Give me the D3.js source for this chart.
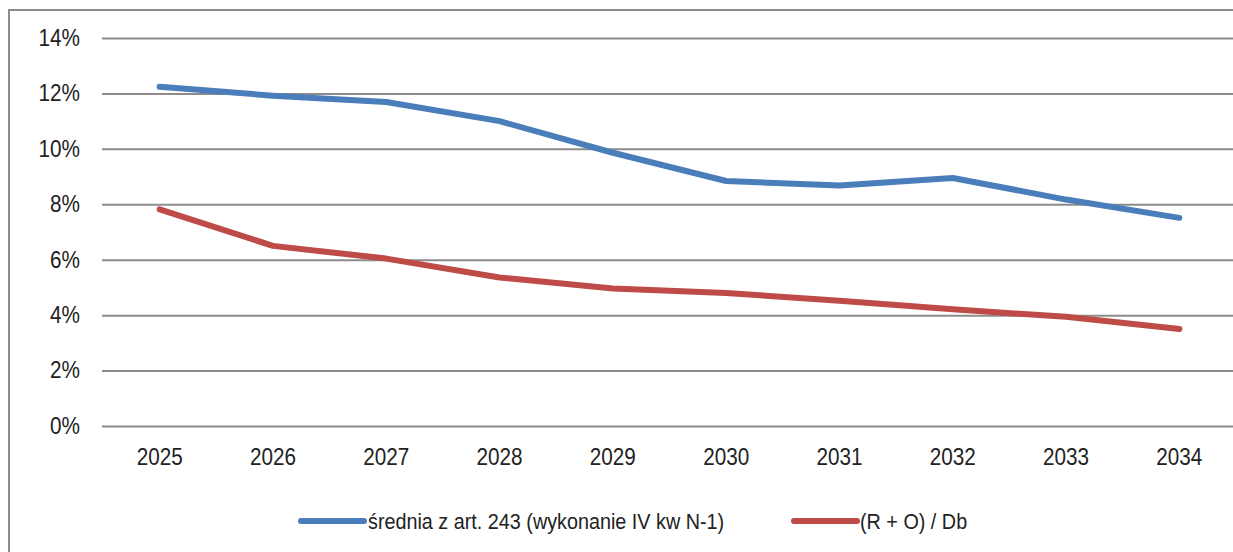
<!DOCTYPE html>
<html>
<head>
<meta charset="utf-8">
<script src="https://cdn.jsdelivr.net/npm/d3@7"></script>
<style>
  html, body { margin: 0; padding: 0; background: #fff; }
  svg { display: block; }
  text { font-family: "Liberation Sans", Arial, sans-serif; fill: #222; }
</style>
</head>
<body>
<svg id="chart" width="1233" height="552"></svg>
<script>
// Years on the category axis
const years = ["2025", "2026", "2027", "2028", "2029", "2030", "2031", "2032", "2033", "2034"];
// Average from art. 243 (execution IV quarter N-1), in percent
const sredniaArt243 = [12.24, 11.92, 11.69, 11.0, 9.86, 8.84, 8.68, 8.95, 8.17, 7.51];
// (R + O) / Db, in percent
const rPlusOdivDb = [7.82, 6.50, 6.04, 5.36, 4.96, 4.80, 4.52, 4.21, 3.94, 3.50];
// Value axis ticks
const yTicks = [0, 2, 4, 6, 8, 10, 12, 14];

const seriesNames = ["średnia z art. 243 (wykonanie IV kw N-1)", "(R + O) / Db"];
const seriesColors = ["#4a7ebb", "#be4b48"];

// Text is drawn slightly condensed, like a narrow sans face
const SX = 0.9;

const svg = d3.select("#chart");

// Outer frame (continues past the right and bottom of the view)
svg.append("rect")
  .attr("x", 9).attr("y", 10)
  .attr("width", 1300).attr("height", 600)
  .attr("fill", "none")
  .attr("stroke", "#8c8c8c")
  .attr("stroke-width", 2);

const x = d3.scaleBand().domain(years).range([103, 1236]);
const y = d3.scaleLinear().domain([0, 14]).range([426, 38]);

// Value axis with gridlines
const yAxis = svg.append("g")
  .attr("transform", "translate(102,0)")
  .call(d3.axisLeft(y)
    .tickValues(yTicks)
    .tickFormat(d => d + "%")
    .tickSizeInner(-(1240 - 102))
    .tickSizeOuter(0)
    .tickPadding(22));
yAxis.select(".domain").remove();
yAxis.selectAll(".tick line")
  .attr("stroke", "#8c8c8c")
  .attr("stroke-width", 2);
yAxis.selectAll(".tick text")
  .attr("font-size", 23)
  .attr("x", -22 / SX)
  .attr("transform", `scale(${SX},1)`)
  .attr("fill", "#222");

// Category axis
const xAxis = svg.append("g")
  .attr("transform", "translate(0,426)")
  .call(d3.axisBottom(x).tickSize(0).tickPadding(23));
xAxis.select(".domain").remove();
xAxis.selectAll(".tick text")
  .attr("font-size", 23)
  .attr("transform", `scale(${SX},1)`)
  .attr("fill", "#222");

// Series lines
const line = d3.line()
  .x((d, i) => x(years[i]) + x.bandwidth() / 2)
  .y(d => y(d));

[sredniaArt243, rPlusOdivDb].forEach((vals, k) => {
  svg.append("path")
    .datum(vals)
    .attr("d", line)
    .attr("fill", "none")
    .attr("stroke", seriesColors[k])
    .attr("stroke-width", 6)
    .attr("stroke-linecap", "round")
    .attr("stroke-linejoin", "round");
});

// Legend
const legendItems = [
  { x1: 301, x2: 364, tx: 368 },
  { x1: 794, x2: 857, tx: 860 }
];
legendItems.forEach((it, k) => {
  svg.append("line")
    .attr("x1", it.x1).attr("x2", it.x2)
    .attr("y1", 521).attr("y2", 521)
    .attr("stroke", seriesColors[k])
    .attr("stroke-width", 6)
    .attr("stroke-linecap", "round");
  svg.append("text")
    .attr("x", it.tx / SX).attr("y", 521)
    .attr("dy", "0.35em")
    .attr("font-size", 22)
    .attr("transform", `scale(${SX},1)`)
    .text(seriesNames[k]);
});
</script>
</body>
</html>
